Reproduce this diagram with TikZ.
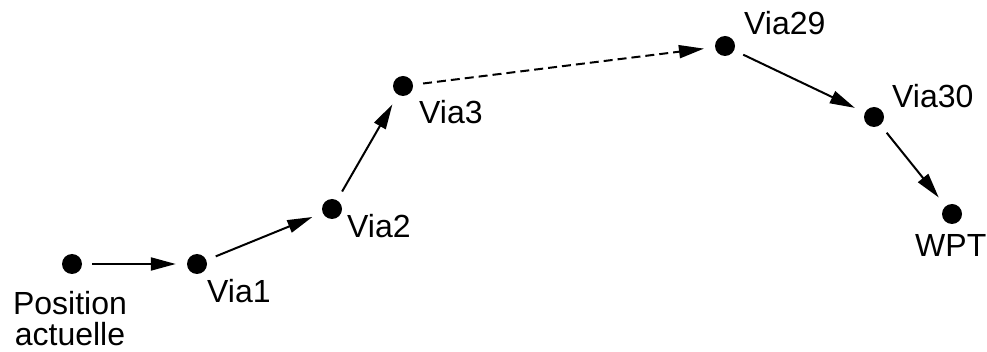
\documentclass[tikz,border=0pt]{standalone}
\usepackage{fontspec}
\setmainfont{Liberation Sans}
\usetikzlibrary{arrows.meta}
\begin{document}
\begin{tikzpicture}[x=1pt,y=-1pt,
  wp/.style={circle,fill=black,inner sep=0pt,minimum size=20pt},
  lbl/.style={inner sep=0pt,font=\fontsize{32}{33}\selectfont},
  conn/.style={line width=2pt,-{Triangle[length=25pt,width=13pt]},shorten <=10pt,shorten >=11pt},
  dashconn/.style={conn,dash pattern=on 9pt off 5pt}]
\useasboundingbox (0,0) rectangle (987,352);
\node[wp] (p0) at (72,264) {};
\node[wp] (v1) at (197,264) {};
\node[wp] (v2) at (332,209) {};
\node[wp] (v3) at (403,86) {};
\node[wp] (v29) at (725,46) {};
\node[wp] (v30) at (874,117) {};
\node[wp] (wpt) at (952,214) {};
\node[lbl,align=center,anchor=north,text depth=0pt,font=\fontsize{32}{31}\selectfont] (lp0) at (70,291) {Position\\actuelle};
\node[lbl,anchor=base west] (l1) at (207,303) {Via1};
\node[lbl,anchor=base west] (l2) at (347,238) {Via2};
\node[lbl,anchor=base west] (l3) at (419,124) {Via3};
\node[lbl,anchor=base west] (l29) at (744,35) {Via29};
\node[lbl,anchor=base west] (l30) at (892,108) {Via30};
\node[lbl,anchor=base west] (lw) at (915,257) {WPT};
\draw[conn] (p0) -- (v1);
\draw[conn] (v1) -- (v2);
\draw[conn] (v2) -- (v3);
\draw[dashconn] (v3) -- (v29);
\draw[conn] (v29) -- (v30);
\draw[conn] (v30) -- (wpt);
\end{tikzpicture}
\end{document}
